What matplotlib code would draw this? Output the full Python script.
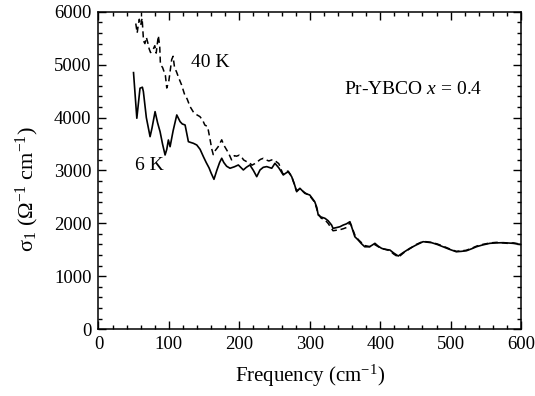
import matplotlib
matplotlib.use('Agg')
import matplotlib.pyplot as plt
from matplotlib.ticker import MultipleLocator

# sigma_1 spectra, Pr-YBCO x = 0.4
freq_6k = [49.8, 54.5, 59, 62.4, 63.8, 68, 73.3, 76, 80.4, 84, 87.5, 91, 94.6, 97, 99.3, 101.7,
           106, 111.2, 115.9, 119, 123, 127.7, 131, 134.8, 139.6, 144.3, 149, 153, 157, 160, 164,
           168, 172, 175, 178, 182, 186.8, 193, 198.6, 205.7, 210, 215, 220, 224.7, 229.4, 234,
           238.9, 246, 250.6, 256, 262.4, 266, 269.5, 274.3, 278, 281.4, 286, 293, 300, 307, 310,
           312, 316, 321.6, 326, 331, 333, 338, 342.8, 347.5, 352, 357, 359.4, 364, 368.8, 373,
           378, 385, 392.5, 397, 402, 407, 413.8, 419, 425.6, 433, 442, 451, 460.9, 473, 481, 489,
           498, 508, 515, 522.5, 530, 536.7, 545, 555.6, 565, 574.5, 582, 588.7, 598, 600]
sig_6k = [4851, 3988, 4556, 4575, 4492, 4000, 3640, 3800, 4113, 3900, 3734, 3500, 3293, 3400, 3577,
          3450, 3750, 4050, 3924, 3880, 3861, 3545, 3530, 3514, 3482, 3400, 3261, 3150, 3050, 2950,
          2833, 3000, 3150, 3231, 3150, 3080, 3042, 3070, 3104, 3010, 3060, 3104, 3000, 2883, 3010,
          3060, 3073, 3042, 3136, 3050, 2915, 2950, 2977, 2883, 2750, 2599, 2663, 2568, 2536, 2410,
          2300, 2158, 2120, 2095, 2050, 1968, 1905, 1920, 1936, 1968, 1990, 2031, 1936, 1747, 1684,
          1620, 1557, 1557, 1622, 1570, 1527, 1508, 1495, 1440, 1382, 1450, 1527, 1590, 1653, 1634,
          1600, 1558, 1510, 1463, 1470, 1482, 1520, 1558, 1590, 1622, 1630, 1634, 1628, 1622, 1603,
          1600]

freq_40k = [53, 55, 56, 58, 60, 62, 64, 66, 68, 70, 72, 74, 77, 80, 82, 85, 87, 88, 91, 95, 97,
            100, 104, 106, 108, 111, 114, 118, 122, 126, 130, 135, 140, 144, 148, 151, 155, 158,
            161, 163, 166, 170, 175, 178, 182, 185, 189, 193, 196, 200, 203, 206, 210, 214, 218,
            222, 226, 230, 234, 238, 242, 246, 250, 253, 256, 262, 269, 274, 281, 286, 293, 300,
            307, 312, 316, 322, 326, 331, 333, 338, 343, 348, 352, 357, 359, 364, 369, 373, 378,
            385, 392, 397, 402, 407, 414, 419, 426, 433, 442, 451, 461, 473, 481, 489, 498, 508,
            515, 522, 530, 537, 545, 556, 565, 574, 582, 589, 598, 600]
sig_40k = [5780, 5600, 5700, 5860, 5750, 5880, 5450, 5400, 5520, 5420, 5300, 5230, 5270, 5360,
           5220, 5550, 5350, 5000, 4950, 4800, 4560, 4700, 5100, 5160, 4950, 4860, 4750, 4620,
           4450, 4350, 4210, 4100, 4050, 4020, 3950, 3860, 3830, 3620, 3400, 3300, 3380, 3450,
           3580, 3480, 3390, 3320, 3200, 3280, 3270, 3290, 3260, 3200, 3170, 3150, 3100, 3130,
           3170, 3210, 3230, 3200, 3180, 3200, 3195, 3160, 3130, 2930, 2990, 2900, 2620, 2650,
           2580, 2520, 2400, 2180, 2100, 2060, 2000, 1900, 1860, 1870, 1880, 1900, 1920, 2010,
           1960, 1780, 1690, 1640, 1580, 1560, 1600, 1560, 1520, 1510, 1480, 1420, 1360, 1440,
           1520, 1600, 1660, 1640, 1610, 1570, 1520, 1470, 1480, 1490, 1530, 1570, 1600, 1630,
           1640, 1630, 1620, 1630, 1610, 1600]

plt.rcParams['font.family'] = ['Liberation Serif', 'DejaVu Serif']
plt.rcParams['mathtext.fontset'] = 'custom'
plt.rcParams['mathtext.rm'] = 'Liberation Serif'
plt.rcParams['mathtext.it'] = 'Liberation Serif:italic'

fig = plt.figure(figsize=(5.35, 3.96), dpi=100)
ax = fig.add_axes([0.184, 0.169, 0.79, 0.801])

ax.plot(freq_6k, sig_6k, color='black', lw=1.2)
ax.plot(freq_40k, sig_40k, color='black', lw=1.1, dashes=(4, 2.5))

ax.set_xlim(0, 600)
ax.set_ylim(0, 6000)
ax.xaxis.set_major_locator(MultipleLocator(100))
ax.xaxis.set_minor_locator(MultipleLocator(20))
ax.yaxis.set_major_locator(MultipleLocator(1000))
ax.yaxis.set_minor_locator(MultipleLocator(200))
ax.tick_params(which='both', direction='in', top=True, right=True, labelsize=13.5, width=1)
ax.tick_params(which='major', length=6, pad=5)
ax.tick_params(which='minor', length=3)
for s in ax.spines.values():
    s.set_linewidth(1.1)

ax.set_xlabel('Frequency (cm$^{-1}$)', fontsize=15, labelpad=7)
ax.set_ylabel('σ$_1$ (Ω$^{-1}$ cm$^{-1}$)', fontsize=16)
ax.yaxis.set_label_coords(-0.135, 0.44)

ax.text(132, 5040, '40 K', fontsize=14, va='center')
ax.text(52, 3090, '6 K', fontsize=14, va='center')
ax.text(348, 4525, 'Pr-YBCO $x$ = 0.4', fontsize=14, va='center')

fig.savefig('out.png', dpi=100)
